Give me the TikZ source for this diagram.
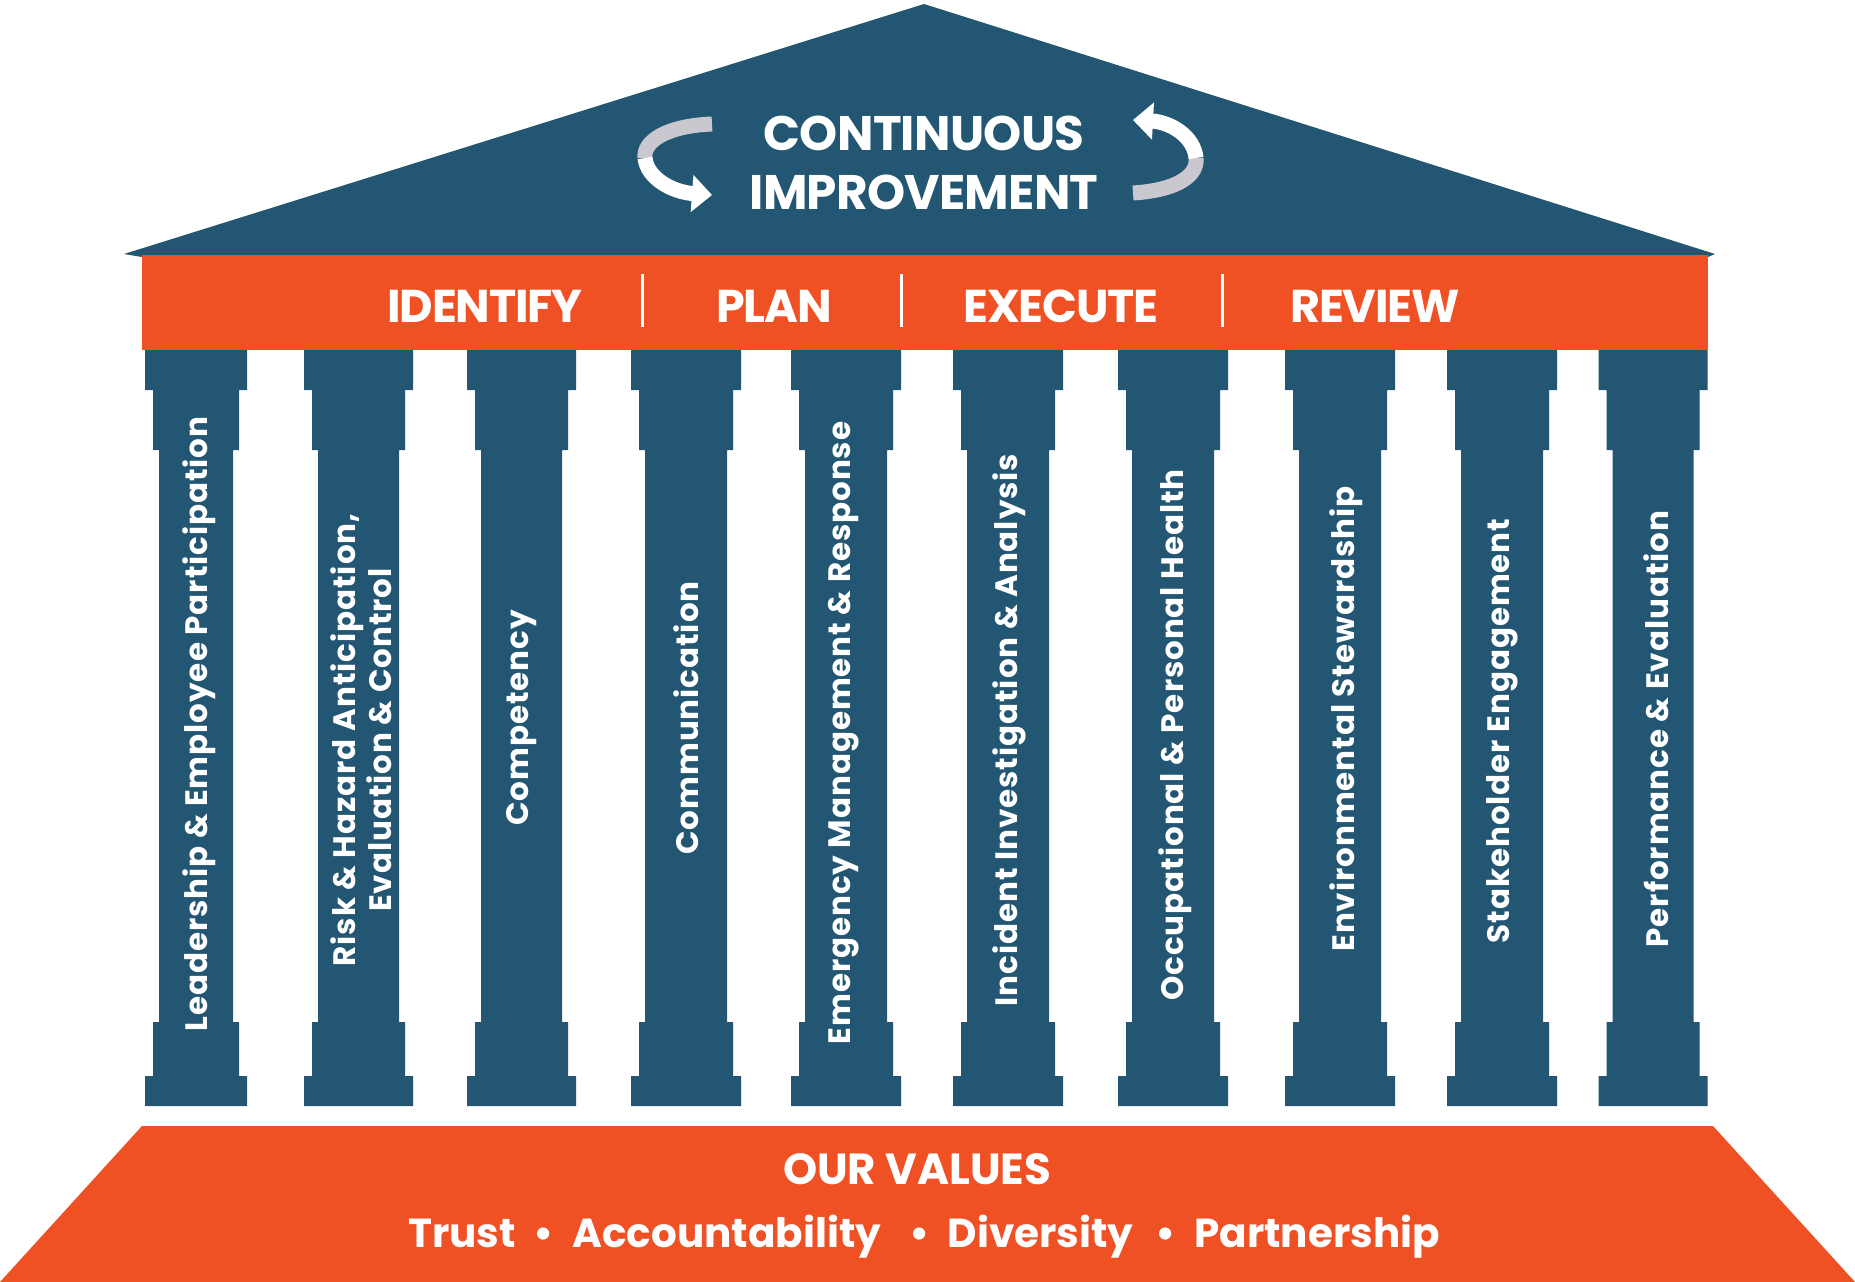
\documentclass[tikz,border=0pt]{standalone}
\usepackage{fontspec}
\setmainfont{Poppins}
\newfontfamily\pillfont{Poppins}[LetterSpace=3.0]
\newfontfamily\rooffont{Poppins}[LetterSpace=-1.5]
\newfontfamily\bandfont{Poppins}[LetterSpace=-2.5]
\usetikzlibrary{arrows.meta}
\definecolor{navy}{RGB}{34,86,115}
\definecolor{orng}{RGB}{239,80,36}
\definecolor{ribbon}{RGB}{200,200,206}
\newcommand\pillarshape[2]{%
  \fill[navy] ({#1-#2/2},350) -- ++(#2,0) -- ++(0,40) -- ++(-8,0) -- ++(0,60) -- ++(-6,0) -- ++(0,572)
   -- ++(6,0) -- ++(0,54) -- ++(8,0) -- ++(0,30) -- ++(-#2,0) -- ++(0,-30) -- ++(8,0) -- ++(0,-54)
   -- ++(6,0) -- ++(0,-572) -- ++(-6,0) -- ++(0,-60) -- ++(-8,0) -- cycle;}
\tikzset{
  pilltext/.style={rotate=90, text=white, align=center, inner sep=0pt,
    font=\pillfont\bfseries\fontsize{31}{36}\selectfont},
  bandtext/.style={text=white, anchor=base, inner sep=0pt, font=\bandfont\bfseries\fontsize{46}{56}\selectfont},
  rooftext/.style={text=white, anchor=base, inner sep=0pt, font=\rooffont\bfseries\fontsize{48.5}{56}\selectfont},
  valhead/.style={text=white, anchor=base, inner sep=0pt, font=\bfseries\fontsize{43.5}{48}\selectfont},
  valtext/.style={text=white, anchor=base, inner sep=0pt, font=\bfseries\fontsize{40.5}{48}\selectfont},
  sep/.style={white, line width=3pt},
  ribbonback/.style={ribbon, line width=15pt},
  ribbonfront/.style={white, line width=15pt, -{Triangle[width=36pt,length=20pt]}}
}
\begin{document}
\begin{tikzpicture}[x=1pt,y=-1pt]
\fill[white] (0,0) rectangle (1855,1282);
\useasboundingbox (0,0) rectangle (1855,1282);
% roof
\fill[navy] (124,254) -- (924,4) -- (1715,254) -- (1708,257) -- (142,257) -- cycle;
% band
\fill[orng] (142,255) rectangle (1708,350);
% pillars
\pillarshape{196}{102}
\pillarshape{358.5}{109}
\pillarshape{521.5}{109}
\pillarshape{686}{110}
\pillarshape{846}{110}
\pillarshape{1008}{110}
\pillarshape{1173}{110}
\pillarshape{1340}{110}
\pillarshape{1502}{110}
\pillarshape{1653}{109}
% base
\fill[orng] (142,1126) -- (1713,1126) -- (1855,1282) -- (0,1282) -- cycle;
% roof text
\node[rooftext] (ci1) at (924,150) {CONTINUOUS};
\node[rooftext] (ci2) at (924,209) {IMPROVEMENT};
% arrows
\coordinate (la1) at (712,124);
\coordinate (la2) at (645,158);
\coordinate (la3) at (712,195);
\draw[ribbonback] (la1) .. controls (665,126) and (643,142) .. (la2);
\draw[ribbonfront] (la2) .. controls (647,178) and (672,192) .. (la3);
\coordinate (ra1) at (1133,120);
\coordinate (ra2) at (1196,158);
\coordinate (ra3) at (1133,193);
\draw[ribbonback] (ra3) .. controls (1180,190) and (1198,174) .. (ra2);
\draw[ribbonfront] (ra2) .. controls (1194,136) and (1170,122) .. (ra1);
% band text
\node[bandtext] (b1) at (485,322) {IDENTIFY};
\node[bandtext] (b2) at (774,322) {PLAN};
\node[bandtext] (b3) at (1061,322) {EXECUTE};
\node[bandtext] (b4) at (1375,322) {REVIEW};
\coordinate (s1a) at (642,274); \coordinate (s1b) at (642,327);
\coordinate (s2a) at (901,274); \coordinate (s2b) at (901,327);
\coordinate (s3a) at (1222,274); \coordinate (s3b) at (1222,327);
\draw[sep] (s1a) -- (s1b);
\draw[sep] (s2a) -- (s2b);
\draw[sep] (s3a) -- (s3b);
% pillar texts
\node[pilltext] (t1) at (199,724) {Leadership \& Employee Participation};
\node[pilltext] (t2) at (361,740) {Risk \& Hazard Anticipation,\\Evaluation \& Control};
\node[pilltext] (t3) at (522,718) {Competency};
\node[pilltext] (t4) at (686,718) {Communication};
\node[pilltext] (t5) at (844,733) {Emergency Management \& Response};
\node[pilltext] (t6) at (1009,730) {Incident Investigation \& Analysis};
\node[pilltext] (t7) at (1175,735) {Occupational \& Personal Health};
\node[pilltext] (t8) at (1346,719) {Environmental Stewardship};
\node[pilltext] (t9) at (1502,731) {Stakeholder Engagement};
\node[pilltext] (t10) at (1656,729) {Performance \& Evaluation};
% values
\node[valhead] (v0) at (917,1184) {OUR VALUES};
\node[valtext] (v1) at (924,1247) {Trust\hspace{0.45em}•\hspace{0.45em}Accountability\hspace{0.7em}•\hspace{0.45em}Diversity\hspace{0.55em}•\hspace{0.45em}Partnership};
\end{tikzpicture}
\end{document}
